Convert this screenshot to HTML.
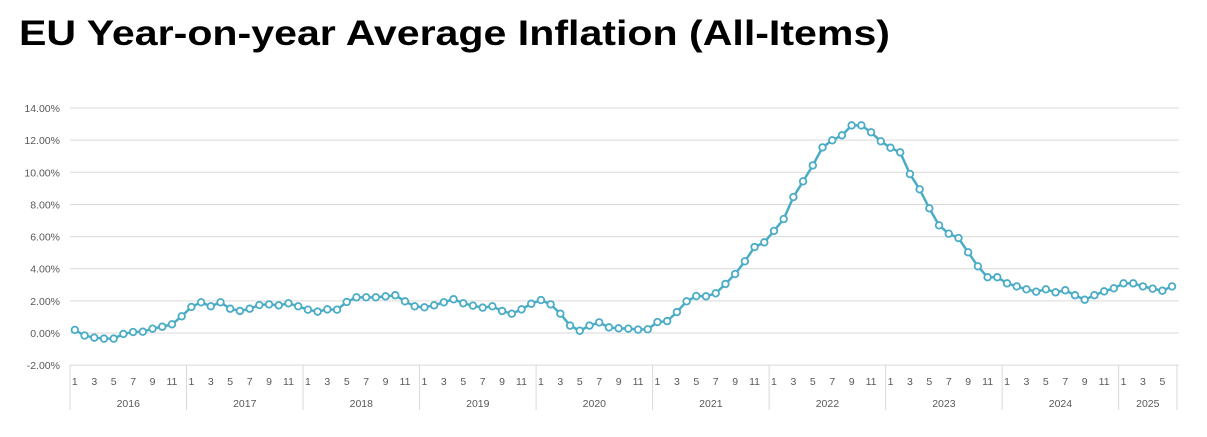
<!DOCTYPE html>
<html><head><meta charset="utf-8"><style>
body{margin:0;background:#fff;font-family:"Liberation Sans",sans-serif}
svg{display:block}
</style></head><body>
<svg id="c" width="1207" height="437">
<text x="19" y="45" font-family="Liberation Sans, sans-serif" font-weight="bold" font-size="35" fill="#000" textLength="871" lengthAdjust="spacingAndGlyphs">EU Year-on-year Average Inflation (All-Items)</text>
</svg>
<script>
const years=["2016","2017","2018","2019","2020","2021","2022","2023","2024","2025"];
const yTicks=[-2,0,2,4,6,8,10,12,14];
const v2016=[0.19,-0.16,-0.29,-0.35,-0.35,-0.06,0.06,0.08,0.27,0.39,0.54,1.04];
const v2017=[1.62,1.91,1.66,1.91,1.51,1.37,1.51,1.74,1.78,1.72,1.85,1.66];
const v2018=[1.45,1.33,1.47,1.45,1.93,2.22,2.22,2.22,2.28,2.35,1.97,1.66];
const v2019=[1.6,1.72,1.91,2.1,1.85,1.7,1.58,1.66,1.37,1.2,1.47,1.82];
const v2020=[2.05,1.78,1.2,0.46,0.14,0.46,0.66,0.35,0.29,0.27,0.21,0.23];
const v2021=[0.68,0.74,1.3,1.97,2.3,2.28,2.47,3.05,3.67,4.46,5.35,5.64];
const v2022=[6.35,7.09,8.46,9.44,10.43,11.55,11.99,12.3,12.92,12.92,12.49,11.93];
const v2023=[11.53,11.24,9.89,8.94,7.76,6.7,6.18,5.91,5.02,4.15,3.47,3.47];
const v2024=[3.09,2.9,2.72,2.57,2.72,2.53,2.66,2.35,2.07,2.35,2.59,2.78];
const v2025=[3.09,3.09,2.9,2.76,2.63,2.9];
const values=[].concat(v2016,v2017,v2018,v2019,v2020,v2021,v2022,v2023,v2024,v2025);
const months=[12,12,12,12,12,12,12,12,12,6];

const NS="http://www.w3.org/2000/svg";
const svg=document.getElementById('c');
const X0=70,MW=9.71,Y0=333,PPU=16.07;
const xs=i=>X0+MW*(i+0.5);
const ys=v=>Y0-v*PPU;
function mk(t,a){const e=document.createElementNS(NS,t);for(const k in a)e.setAttribute(k,a[k]);svg.appendChild(e);return e;}
const xEnd=X0+MW*values.length+2;
yTicks.forEach(t=>{
  const g=mk('line',{x1:X0,x2:xEnd,y1:ys(t),y2:ys(t),stroke:'#d9d9d9','stroke-width':1});
  
  
  const l=mk('text',{x:60,y:ys(t)+4,'text-anchor':'end','font-size':10.5,fill:'#595959'});
  l.textContent=t.toFixed(2)+'%';
  
  
});
// category axis boxes
let idx=0;
years.forEach((y,k)=>{
  const xa=X0+MW*idx;
  const s=mk('line',{x1:xa,x2:xa,y1:365,y2:410,stroke:'#d9d9d9','stroke-width':1});
  
  
  for(let m=1;m<=months[k];m+=2){
    const t=mk('text',{x:xs(idx+m-1),y:385,'text-anchor':'middle','font-size':10.5,fill:'#595959'});
    t.textContent=m;
    
    
  }
  const yl=mk('text',{x:xa+MW*months[k]/2,y:407,'text-anchor':'middle','font-size':10.5,fill:'#595959'});
  yl.textContent=y;
  
  
  idx+=months[k];
});
const se=mk('line',{x1:X0+MW*idx,x2:X0+MW*idx,y1:365,y2:410,stroke:'#d9d9d9','stroke-width':1});


// line
const path=mk('polyline',{points:values.map((v,i)=>xs(i)+','+ys(v)).join(' '),fill:'none',stroke:'#4BACC6','stroke-width':2.5,'stroke-linejoin':'round'});


values.forEach((v,i)=>{
  const c=mk('circle',{cx:xs(i),cy:ys(v),r:3.3,fill:'#fff',stroke:'#4BACC6','stroke-width':1.8});
  
  
});
</script>
</body></html>
